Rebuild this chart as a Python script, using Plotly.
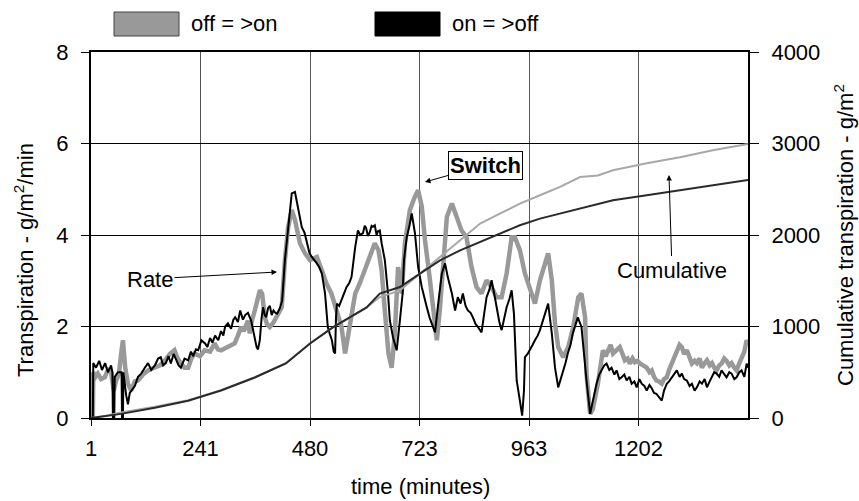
import plotly.graph_objects as go

# ---------------- data ----------------
tick_pos = [0, 240, 480, 720, 960, 1200]
tick_text = ["1", "241", "480", "723", "963", "1202"]

# Rate, on = >off (black)
rate_on_off_t = [
    0, 4, 5, 11, 18, 24, 31, 37, 44, 47,
    48, 51, 52, 59, 67, 68, 70, 71, 77, 81,
    85, 92, 96, 103, 110, 118, 125, 132, 140, 147,
    153, 158, 164, 170, 175, 181, 186, 192, 197, 205,
    213, 219, 224, 230, 235, 242, 250, 255, 261, 266,
    272, 279, 285, 290, 294, 300, 307, 312, 316, 322,
    327, 333, 338, 344, 351, 355, 359, 363, 366, 370,
    374, 377, 381, 384, 388, 392, 396, 400, 404, 408,
    414, 419, 425, 432, 440, 447, 454, 462, 468, 473,
    479, 484, 490, 495, 500, 506, 513, 519, 523, 528,
    532, 535, 537, 539, 544, 549, 555, 560, 566, 571,
    579, 585, 590, 596, 600, 603, 607, 611, 615, 618,
    622, 626, 629, 633, 637, 644, 651, 655, 662, 670,
    677, 683, 686, 692, 698, 703, 710, 717, 725, 731,
    736, 742, 747, 754, 761, 769, 776, 782, 791, 798,
    804, 810, 815, 821, 826, 832, 837, 843, 848, 856,
    862, 867, 873, 878, 884, 889, 895, 900, 906, 911,
    917, 922, 927, 933, 940, 945, 949, 951, 957, 962,
    968, 973, 979, 984, 990, 995, 1002, 1010, 1017, 1024,
    1030, 1035, 1040, 1045, 1051, 1056, 1062, 1067, 1075, 1083,
    1086, 1094, 1100, 1108, 1114, 1119, 1125, 1130, 1136, 1141,
    1147, 1152, 1158, 1163, 1169, 1174, 1180, 1185, 1191, 1196,
    1202, 1207, 1213, 1218, 1224, 1229, 1234, 1239, 1245, 1251,
    1256, 1262, 1267, 1273, 1278, 1284, 1290, 1295, 1300, 1306,
    1312, 1317, 1323, 1328, 1334, 1339, 1345, 1350, 1356, 1361,
    1366, 1371, 1377, 1382, 1388, 1393, 1399, 1404, 1410, 1415,
    1421, 1426, 1432, 1437, 1440,
]
rate_on_off = [
    0.0, 0.0, 1.2, 1.1, 1.25, 1.05, 1.2, 1.0, 1.15, 1.0,
    0.0, 0.0, 0.9, 1.0, 1.0, 0.0, 0.0, 1.0, 0.5, 0.3,
    0.55, 0.65, 0.7, 0.9, 0.97, 1.1, 1.2, 1.05, 1.15, 1.3,
    1.33, 1.15, 1.2, 1.35, 1.19, 1.4, 1.3, 1.15, 1.1, 1.3,
    1.26, 1.45, 1.35, 1.5, 1.48, 1.7, 1.63, 1.55, 1.75, 1.65,
    1.8, 1.7, 1.9, 1.8, 2.0, 2.07, 1.95, 2.15, 2.2, 2.1,
    2.35, 2.15, 2.25, 2.3, 2.13, 1.95, 1.75, 1.55, 1.5, 1.7,
    2.2, 2.42, 2.25, 2.2, 2.4, 2.45, 2.25, 2.35, 2.3, 2.28,
    2.4, 2.57, 3.45, 4.17, 4.91, 4.94, 4.55, 4.17, 4.05, 3.82,
    3.6, 3.52, 3.45, 3.38, 3.3, 3.16, 2.72, 1.99, 1.85, 1.7,
    1.45, 1.41, 2.2, 2.5, 2.45, 2.57, 2.7, 2.86, 2.95, 3.08,
    3.73, 4.1, 4.0, 4.04, 4.2, 4.15, 3.98, 4.06, 4.2, 4.18,
    4.21, 4.0, 4.08, 4.1, 3.82, 3.45, 2.72, 2.13, 1.76, 1.48,
    2.13, 2.72, 3.45, 3.95, 4.2, 4.47, 4.04, 3.3, 2.86, 2.6,
    2.42, 2.2, 2.07, 1.87, 2.5, 3.16, 3.38, 3.08, 2.72, 2.35,
    2.64, 2.5, 2.72, 2.45, 2.35, 2.3, 2.2, 2.05, 1.99, 1.87,
    2.3, 2.64, 2.8, 3.01, 2.7, 2.42, 2.1, 1.92, 2.2, 2.42,
    2.6, 2.79, 2.28, 0.82, 0.38, 0.05, 0.6, 1.33, 1.4, 1.48,
    1.6, 1.7, 1.8, 1.92, 2.1, 2.28, 2.5, 1.85, 1.1, 0.67,
    0.85, 1.04, 1.2, 1.41, 1.6, 1.85, 2.05, 2.2, 1.99, 1.1,
    0.82, 0.09, 0.38, 0.75, 0.95, 1.04, 1.15, 1.19, 1.05, 1.1,
    0.95, 1.04, 0.85, 0.89, 0.95, 0.82, 0.9, 0.75, 0.8, 0.67,
    0.85, 0.75, 0.7, 0.6, 0.72, 0.65, 0.55, 0.53, 0.45, 0.38,
    0.6, 0.75, 0.8, 0.89, 0.95, 1.04, 0.9, 0.97, 0.85, 0.82,
    0.7, 0.75, 0.6, 0.67, 0.8, 0.75, 0.85, 0.67, 0.8, 0.89,
    1.0, 0.97, 0.9, 1.04, 0.95, 0.89, 1.0, 0.97, 0.85, 0.89,
    1.0, 1.04, 0.9, 1.19, 1.1,
]

# Rate, off = >on (grey)
rate_off_on_t = [
    0, 4, 5, 10, 15, 22, 30, 37, 44, 50,
    55, 61, 66, 70, 75, 81, 88, 96, 103, 114,
    125, 140, 151, 162, 173, 183, 190, 197, 205, 213,
    220, 227, 239, 249, 261, 271, 278, 285, 292, 300,
    315, 322, 329, 335, 344, 348, 352, 359, 366, 370,
    375, 381, 386, 392, 399, 407, 418, 425, 432, 440,
    447, 458, 469, 480, 488, 495, 506, 516, 527, 538,
    549, 557, 562, 568, 579, 589, 600, 611, 622, 630,
    637, 644, 652, 659, 666, 673, 677, 681, 688, 699,
    710, 717, 725, 732, 743, 750, 758, 765, 772, 780,
    791, 802, 812, 823, 834, 845, 856, 867, 878, 889,
    900, 911, 922, 929, 940, 951, 962, 973, 984, 995,
    1002, 1010, 1017, 1024, 1035, 1046, 1057, 1068, 1075, 1083,
    1086, 1094, 1100, 1111, 1122, 1128, 1133, 1139, 1144, 1152,
    1159, 1165, 1170, 1176, 1181, 1187, 1192, 1198, 1203, 1210,
    1218, 1224, 1229, 1234, 1239, 1245, 1251, 1256, 1262, 1267,
    1273, 1278, 1284, 1290, 1295, 1300, 1306, 1312, 1317, 1323,
    1328, 1334, 1339, 1345, 1350, 1356, 1361, 1366, 1371, 1377,
    1382, 1388, 1393, 1399, 1404, 1410, 1415, 1421, 1426, 1432,
    1437, 1440,
]
rate_off_on = [
    0.0, 0.0, 1.0, 0.9, 0.97, 0.85, 0.89, 1.05, 1.0, 0.6,
    0.82, 0.95, 1.4, 1.7, 1.1, 0.75, 0.6, 0.8, 0.82, 0.95,
    1.04, 1.1, 1.15, 1.26, 1.4, 1.48, 1.3, 1.19, 1.1, 1.1,
    1.3, 1.41, 1.35, 1.48, 1.45, 1.63, 1.5, 1.48, 1.52, 1.55,
    1.63, 1.8, 1.99, 1.9, 2.13, 1.85, 2.1, 2.35, 2.6, 2.79,
    2.72, 2.2, 2.05, 1.99, 2.07, 2.2, 2.42, 3.45, 4.17, 4.55,
    4.33, 3.82, 3.6, 3.45, 3.5, 3.52, 3.23, 2.94, 2.72, 2.35,
    1.99, 1.41, 1.7, 2.13, 2.72, 2.94, 3.23, 3.52, 3.82, 3.67,
    3.23, 2.35, 1.41, 1.1, 1.85, 3.3, 3.0, 2.72, 3.82, 4.55,
    4.84, 4.98, 4.62, 3.89, 3.01, 2.28, 1.7, 2.42, 3.52, 4.4,
    4.69, 4.4, 4.1, 3.95, 3.3, 2.86, 2.72, 3.01, 2.86, 2.64,
    2.64, 3.16, 3.95, 3.95, 3.67, 3.16, 2.79, 2.5, 3.01, 3.38,
    3.6, 3.01, 2.07, 1.55, 1.33, 1.55, 1.99, 2.64, 2.72, 2.2,
    0.97, 0.09, 0.2, 0.75, 1.48, 1.35, 1.48, 1.6, 1.41, 1.5,
    1.55, 1.4, 1.26, 1.3, 1.19, 1.3, 1.22, 1.25, 1.19, 1.15,
    1.1, 1.0, 1.04, 0.9, 0.82, 0.8, 0.75, 0.85, 0.89, 1.05,
    1.19, 1.35, 1.48, 1.6, 1.55, 1.4, 1.48, 1.3, 1.19, 1.25,
    1.2, 1.3, 1.1, 1.2, 1.26, 1.15, 1.2, 1.1, 1.04, 1.15,
    1.19, 1.3, 1.25, 1.15, 1.2, 1.1, 1.04, 1.2, 1.33, 1.45,
    1.7, 1.6,
]

# Cumulative transpiration (g/m2)
cum_t = [0, 31, 66, 140, 213, 285, 359, 427, 480, 530, 568, 604, 633, 677, 721,
         765, 809, 853, 896, 940, 984, 1028, 1072, 1111, 1144, 1218, 1291, 1363, 1440]
cum_on_off = [0, 18, 45, 112, 188, 300, 443, 596, 815, 990, 1100, 1209, 1359, 1431, 1578,
              1723, 1832, 1923, 2015, 2106, 2179, 2234, 2289, 2343, 2380, 2434, 2489, 2544, 2600]
cum_off_on = [0, 22, 60, 122, 195, 305, 445, 598, 815, 990, 1100, 1205, 1322, 1395, 1578,
              1759, 1942, 2125, 2234, 2343, 2434, 2525, 2634, 2650, 2708, 2784, 2850, 2926, 2995]

assert len(rate_on_off_t) == len(rate_on_off)
assert len(rate_off_on_t) == len(rate_off_on)

# ---------------- layout helpers ----------------
W, H = 859, 501
L, R, T, B = 91, 111, 52, 83
PW, PH = W - L - R, H - T - B
FONT = "Liberation Sans, Arial, sans-serif"
FS = 22


def px(x):
    return (x - L) / PW


def py(y):
    return (H - B - y) / PH


fig = go.Figure()
fig.add_trace(go.Scatter(x=rate_off_on_t, y=rate_off_on, mode="lines",
                         line=dict(color="#999999", width=4.5), name="off = >on",
                         showlegend=False))
fig.add_trace(go.Scatter(x=rate_on_off_t, y=rate_on_off, mode="lines",
                         line=dict(color="#000000", width=2), name="on = >off",
                         showlegend=False))
fig.add_trace(go.Scatter(x=cum_t, y=cum_off_on, mode="lines", yaxis="y2",
                         line=dict(color="#a8a8a8", width=2), showlegend=False))
fig.add_trace(go.Scatter(x=cum_t, y=cum_on_off, mode="lines", yaxis="y2",
                         line=dict(color="#2a2a2a", width=2), showlegend=False))

axis_font = dict(family=FONT, size=FS, color="black")

fig.update_layout(
    width=W, height=H,
    margin=dict(l=L, r=R, t=T, b=B, pad=0),
    paper_bgcolor="white", plot_bgcolor="white",
    font=axis_font,
    xaxis=dict(range=[0, 1440], tickvals=tick_pos, ticktext=tick_text,
               ticks="outside", ticklen=6, tickcolor="black", tickwidth=1,
               showgrid=True, gridcolor="#555555", gridwidth=1,
               showline=True, linecolor="black", linewidth=2, mirror=True,
               zeroline=False, tickfont=axis_font, ticklabelstandoff=4),
    yaxis=dict(range=[0, 8], tickvals=[0, 2, 4, 6, 8],
               ticks="outside", ticklen=8, tickcolor="black", tickwidth=1,
               showgrid=True, gridcolor="black", gridwidth=1,
               showline=True, linecolor="black", linewidth=2,
               zeroline=False, tickfont=axis_font, ticklabelstandoff=8),
    yaxis2=dict(range=[0, 4000], tickvals=[0, 1000, 2000, 3000, 4000],
                overlaying="y", side="right",
                ticks="outside", ticklen=9, tickcolor="black", tickwidth=1,
                showgrid=False, showline=True, linecolor="black", linewidth=2,
                zeroline=False, tickfont=axis_font, ticklabelstandoff=8),
    showlegend=False,
)

# legend drawn as shapes + text (like the original)
fig.add_shape(type="rect", xref="paper", yref="paper",
              x0=px(114), x1=px(179), y0=py(36), y1=py(12),
              fillcolor="#999999", line=dict(color="#444444", width=1))
fig.add_shape(type="rect", xref="paper", yref="paper",
              x0=px(375), x1=px(440), y0=py(36), y1=py(12),
              fillcolor="#000000", line=dict(color="#000000", width=1))

anns = [
    dict(text="off = >on", x=px(189), y=py(24), xanchor="left", yanchor="middle"),
    dict(text="on = >off", x=px(450), y=py(24), xanchor="left", yanchor="middle"),
    dict(text="time (minutes)", x=px(420), y=py(487), xanchor="center", yanchor="middle"),
    dict(text="Transpiration - g/m<sup>2</sup>/min", x=px(24), y=py(260),
         xanchor="center", yanchor="middle", textangle=-90),
    dict(text="Cumulative transpiration - g/m<sup>2</sup>", x=px(844), y=py(235),
         xanchor="center", yanchor="middle", textangle=-90),
]
for a in anns:
    fig.add_annotation(xref="paper", yref="paper", showarrow=False,
                       font=axis_font, **a)

# arrows with labels
fig.add_annotation(x=(277 - L) * 1440 / PW, y=(H - B - 272) * 8 / PH,
                   xref="x", yref="y", text="Rate", showarrow=True,
                   ax=-127, ay=7, arrowhead=2, arrowsize=1.1, arrowwidth=1,
                   arrowcolor="black", font=axis_font)
fig.add_annotation(x=(425 - L) * 1440 / PW, y=(H - B - 182) * 8 / PH,
                   xref="x", yref="y", text="<b>Switch</b>", showarrow=True,
                   ax=60, ay=-17, arrowhead=2, arrowsize=1.1, arrowwidth=1,
                   arrowcolor="black", font=axis_font, bordercolor="black",
                   borderwidth=1, borderpad=1, bgcolor="white")
fig.add_annotation(x=(669 - L) * 1440 / PW, y=(H - B - 175) * 4000 / PH,
                   xref="x", yref="y2", text="Cumulative", showarrow=True,
                   ax=3, ay=95, arrowhead=2, arrowsize=1.1, arrowwidth=1,
                   arrowcolor="black", font=axis_font)

fig.write_html("out.html",
               config={"displayModeBar": False},
               post_script="document.body.style.margin='0';"
                           "document.body.style.overflow='hidden';")
